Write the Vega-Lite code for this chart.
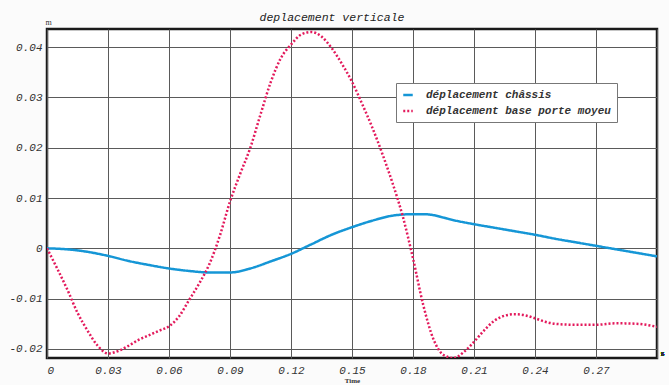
{
  "$schema": "https://vega.github.io/schema/vega-lite/v6.json",
  "width": 610,
  "height": 329,
  "autosize": {"type": "none"},
  "padding": {"left": 47, "top": 29, "right": 12, "bottom": 27},
  "background": "#fbfbfb",
  "title": {
    "text": "deplacement verticale",
    "font": "Liberation Mono",
    "fontStyle": "italic",
    "fontWeight": "normal",
    "fontSize": 11.5,
    "color": "#222",
    "anchor": "middle",
    "frame": "group",
    "dx": -20,
    "offset": -5
  },
  "config": {
    "view": {"stroke": "#1a1a1a", "strokeWidth": 2.5, "fill": "#ffffff"},
    "axis": {
      "labelFont": "Liberation Mono",
      "labelFontStyle": "italic",
      "labelFontSize": 11,
      "labelColor": "#333",
      "gridColor": "#5a5a5a",
      "gridOpacity": 1,
      "gridWidth": 1,
      "ticks": false,
      "domain": false
    }
  },
  "data": {
    "values": [
      {"t": 0, "v": 0, "s": "déplacement châssis"},
      {"t": 0.01, "v": -0.0002, "s": "déplacement châssis"},
      {"t": 0.02, "v": -0.0007, "s": "déplacement châssis"},
      {"t": 0.03, "v": -0.0015, "s": "déplacement châssis"},
      {"t": 0.04, "v": -0.0025, "s": "déplacement châssis"},
      {"t": 0.05, "v": -0.0033, "s": "déplacement châssis"},
      {"t": 0.06, "v": -0.004, "s": "déplacement châssis"},
      {"t": 0.07, "v": -0.0045, "s": "déplacement châssis"},
      {"t": 0.08, "v": -0.0048, "s": "déplacement châssis"},
      {"t": 0.09, "v": -0.0048, "s": "déplacement châssis"},
      {"t": 0.1, "v": -0.004, "s": "déplacement châssis"},
      {"t": 0.11, "v": -0.0026, "s": "déplacement châssis"},
      {"t": 0.12, "v": -0.0011, "s": "déplacement châssis"},
      {"t": 0.13, "v": 0.0008, "s": "déplacement châssis"},
      {"t": 0.14, "v": 0.0027, "s": "déplacement châssis"},
      {"t": 0.15, "v": 0.0042, "s": "déplacement châssis"},
      {"t": 0.16, "v": 0.0055, "s": "déplacement châssis"},
      {"t": 0.17, "v": 0.0065, "s": "déplacement châssis"},
      {"t": 0.18, "v": 0.0068, "s": "déplacement châssis"},
      {"t": 0.185, "v": 0.0068, "s": "déplacement châssis"},
      {"t": 0.19, "v": 0.0066, "s": "déplacement châssis"},
      {"t": 0.195, "v": 0.0061, "s": "déplacement châssis"},
      {"t": 0.2, "v": 0.0056, "s": "déplacement châssis"},
      {"t": 0.21, "v": 0.0048, "s": "déplacement châssis"},
      {"t": 0.22, "v": 0.0041, "s": "déplacement châssis"},
      {"t": 0.23, "v": 0.0034, "s": "déplacement châssis"},
      {"t": 0.24, "v": 0.0027, "s": "déplacement châssis"},
      {"t": 0.25, "v": 0.0019, "s": "déplacement châssis"},
      {"t": 0.26, "v": 0.0012, "s": "déplacement châssis"},
      {"t": 0.27, "v": 0.0005, "s": "déplacement châssis"},
      {"t": 0.28, "v": -0.0002, "s": "déplacement châssis"},
      {"t": 0.29, "v": -0.0009, "s": "déplacement châssis"},
      {"t": 0.3, "v": -0.0016, "s": "déplacement châssis"},
      {"t": 0, "v": 0, "s": "déplacement base porte moyeu"},
      {"t": 0.005, "v": -0.004, "s": "déplacement base porte moyeu"},
      {"t": 0.01, "v": -0.0082, "s": "déplacement base porte moyeu"},
      {"t": 0.015, "v": -0.0128, "s": "déplacement base porte moyeu"},
      {"t": 0.02, "v": -0.0164, "s": "déplacement base porte moyeu"},
      {"t": 0.025, "v": -0.0194, "s": "déplacement base porte moyeu"},
      {"t": 0.03, "v": -0.0209, "s": "déplacement base porte moyeu"},
      {"t": 0.035, "v": -0.0204, "s": "déplacement base porte moyeu"},
      {"t": 0.04, "v": -0.0194, "s": "déplacement base porte moyeu"},
      {"t": 0.045, "v": -0.0182, "s": "déplacement base porte moyeu"},
      {"t": 0.05, "v": -0.0173, "s": "déplacement base porte moyeu"},
      {"t": 0.055, "v": -0.0164, "s": "déplacement base porte moyeu"},
      {"t": 0.06, "v": -0.0155, "s": "déplacement base porte moyeu"},
      {"t": 0.065, "v": -0.0135, "s": "déplacement base porte moyeu"},
      {"t": 0.07, "v": -0.0102, "s": "déplacement base porte moyeu"},
      {"t": 0.075, "v": -0.0069, "s": "déplacement base porte moyeu"},
      {"t": 0.08, "v": -0.003, "s": "déplacement base porte moyeu"},
      {"t": 0.085, "v": 0.0025, "s": "déplacement base porte moyeu"},
      {"t": 0.09, "v": 0.0093, "s": "déplacement base porte moyeu"},
      {"t": 0.095, "v": 0.0148, "s": "déplacement base porte moyeu"},
      {"t": 0.1, "v": 0.02, "s": "déplacement base porte moyeu"},
      {"t": 0.105, "v": 0.0266, "s": "déplacement base porte moyeu"},
      {"t": 0.11, "v": 0.033, "s": "déplacement base porte moyeu"},
      {"t": 0.115, "v": 0.0378, "s": "déplacement base porte moyeu"},
      {"t": 0.12, "v": 0.0405, "s": "déplacement base porte moyeu"},
      {"t": 0.125, "v": 0.0425, "s": "déplacement base porte moyeu"},
      {"t": 0.13, "v": 0.043, "s": "déplacement base porte moyeu"},
      {"t": 0.135, "v": 0.0421, "s": "déplacement base porte moyeu"},
      {"t": 0.14, "v": 0.0398, "s": "déplacement base porte moyeu"},
      {"t": 0.145, "v": 0.0367, "s": "déplacement base porte moyeu"},
      {"t": 0.15, "v": 0.0331, "s": "déplacement base porte moyeu"},
      {"t": 0.155, "v": 0.0287, "s": "déplacement base porte moyeu"},
      {"t": 0.16, "v": 0.024, "s": "déplacement base porte moyeu"},
      {"t": 0.165, "v": 0.0187, "s": "déplacement base porte moyeu"},
      {"t": 0.17, "v": 0.0129, "s": "déplacement base porte moyeu"},
      {"t": 0.175, "v": 0.0063, "s": "déplacement base porte moyeu"},
      {"t": 0.18, "v": -0.002, "s": "déplacement base porte moyeu"},
      {"t": 0.185, "v": -0.0112, "s": "déplacement base porte moyeu"},
      {"t": 0.19, "v": -0.018, "s": "déplacement base porte moyeu"},
      {"t": 0.195, "v": -0.0212, "s": "déplacement base porte moyeu"},
      {"t": 0.2, "v": -0.0218, "s": "déplacement base porte moyeu"},
      {"t": 0.205, "v": -0.0206, "s": "déplacement base porte moyeu"},
      {"t": 0.21, "v": -0.0186, "s": "déplacement base porte moyeu"},
      {"t": 0.215, "v": -0.0163, "s": "déplacement base porte moyeu"},
      {"t": 0.22, "v": -0.0144, "s": "déplacement base porte moyeu"},
      {"t": 0.225, "v": -0.0134, "s": "déplacement base porte moyeu"},
      {"t": 0.23, "v": -0.0131, "s": "déplacement base porte moyeu"},
      {"t": 0.235, "v": -0.0133, "s": "déplacement base porte moyeu"},
      {"t": 0.24, "v": -0.0139, "s": "déplacement base porte moyeu"},
      {"t": 0.245, "v": -0.0146, "s": "déplacement base porte moyeu"},
      {"t": 0.25, "v": -0.015, "s": "déplacement base porte moyeu"},
      {"t": 0.26, "v": -0.0152, "s": "déplacement base porte moyeu"},
      {"t": 0.27, "v": -0.0152, "s": "déplacement base porte moyeu"},
      {"t": 0.28, "v": -0.0149, "s": "déplacement base porte moyeu"},
      {"t": 0.29, "v": -0.015, "s": "déplacement base porte moyeu"},
      {"t": 0.3, "v": -0.0156, "s": "déplacement base porte moyeu"}
    ]
  },
  "layer": [
    {
      "mark": {"type": "line", "interpolate": "monotone", "strokeWidth": 2.5, "clip": true},
      "encoding": {
        "x": {
          "field": "t",
          "type": "quantitative",
          "scale": {"domain": [0, 0.3], "nice": false, "zero": false},
          "axis": {
            "values": [0, 0.03, 0.06, 0.09, 0.12, 0.15, 0.18, 0.21, 0.24, 0.27, 0.3],
            "labelExpr": "datum.value > 0.29 ? '' : toString(round(datum.value * 100) / 100)",
            "labelPadding": 6,
            "title": "Time",
            "titleFont": "Liberation Serif",
            "titleFontSize": 7,
            "titleFontWeight": "bold",
            "titleColor": "#333",
            "titlePadding": 1
          }
        },
        "y": {
          "field": "v",
          "type": "quantitative",
          "scale": {"domain": [-0.0218, 0.0436], "nice": false, "zero": false},
          "axis": {
            "values": [-0.02, -0.01, 0, 0.01, 0.02, 0.03, 0.04],
            "labelExpr": "toString(round(datum.value * 100) / 100)",
            "labelPadding": 5,
            "title": "m",
            "titleAngle": 0,
            "titleX": 1,
            "titleY": -3,
            "titleAlign": "center",
            "titleBaseline": "bottom",
            "titleFont": "Liberation Serif",
            "titleFontSize": 8,
            "titleFontWeight": "normal",
            "titleColor": "#333"
          }
        },
        "color": {
          "field": "s",
          "type": "nominal",
          "scale": {
            "domain": ["déplacement châssis", "déplacement base porte moyeu"],
            "range": ["#1596d6", "#e31a5c"]
          },
          "legend": {
            "title": null,
            "orient": "none",
            "legendX": 349,
            "legendY": 54,
            "fillColor": "#ffffff",
            "strokeColor": "#777",
            "padding": 6,
            "rowPadding": 5,
            "symbolType": "stroke",
            "symbolSize": 90,
            "symbolStrokeWidth": 2.5,
            "labelFont": "Liberation Mono",
            "labelFontStyle": "italic",
            "labelFontWeight": "bold",
            "labelFontSize": 11,
            "labelColor": "#333",
            "labelOffset": 12,
            "labelLimit": 400
          }
        },
        "strokeDash": {
          "field": "s",
          "type": "nominal",
          "scale": {
            "domain": ["déplacement châssis", "déplacement base porte moyeu"],
            "range": [[1, 0], [2, 2]]
          },
          "legend": null
        }
      }
    },
    {
      "mark": {"type": "text", "font": "Liberation Serif", "fontSize": 8, "color": "#333", "align": "left", "dx": 4, "dy": -4},
      "encoding": {
        "x": {"datum": 0.3},
        "y": {"datum": -0.0218},
        "text": {"value": "s"}
      }
    }
  ]
}
